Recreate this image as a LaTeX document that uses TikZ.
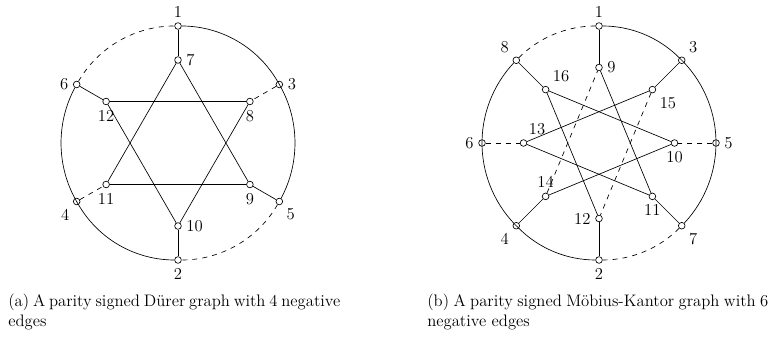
\documentclass[tikz,border=0pt]{standalone}
\usepackage{tikz}

\begin{document}
\begin{tikzpicture}[x=0.75pt, y=0.75pt, line width=0.5pt,
	vtx/.style={circle, draw, fill=white, inner sep=0pt, minimum size=5pt},
	neg/.style={dash pattern=on 3.75pt off 3.75pt},
	rima/.style={bend left=30, looseness=0.91},
	rimb/.style={bend left=22.5, looseness=0.885},
	caption/.style={anchor=base west, inner sep=0pt, align=justify, font={\fontsize{12.5}{15}\selectfont}},
	every label/.style={font={\fontsize{12.5}{15}\selectfont}}]
	\useasboundingbox (0,0) rectangle (770,349);
	% (a) Durer graph
	\begin{scope}[shift={(178,206)}]
	\node[vtx, label=above:1] (a1) at (90:117) {};
	\node[vtx, label=right:3] (a3) at (30:117) {};
	\node[vtx, label=below right:5] (a5) at (-30:117) {};
	\node[vtx, label=below:2] (a2) at (-90:117) {};
	\node[vtx, label=below left:4] (a4) at (210:117) {};
	\node[vtx, label=left:6] (a6) at (150:117) {};
	\node[vtx, label=right:7] (a7) at (90:83) {};
	\node[vtx, label=below:8] (a8) at (30:83) {};
	\node[vtx, label=below:9] (a9) at (-30:83) {};
	\node[vtx, label=right:10] (a10) at (-90:83) {};
	\node[vtx, label=below:11] (a11) at (210:83) {};
	\node[vtx, label=below:12] (a12) at (150:83) {};
	\draw (a1) to[rima] (a3) to[rima] (a5);
	\draw[neg] (a5) to[rima] (a2);
	\draw (a2) to[rima] (a4) to[rima] (a6);
	\draw[neg] (a6) to[rima] (a1);
	\draw (a1) -- (a7);
	\draw[neg] (a3) -- (a8);
	\draw (a5) -- (a9);
	\draw (a2) -- (a10);
	\draw[neg] (a4) -- (a11);
	\draw (a6) -- (a12);
	\draw (a7) -- (a9) -- (a11) -- (a7);
	\draw (a8) -- (a10) -- (a12) -- (a8);
	\end{scope}
	% (b) Moebius-Kantor graph
	\begin{scope}[shift={(599,206)}]
	\node[vtx, label=above:1] (b1) at (90:117) {};
	\node[vtx, label=above right:3] (b3) at (45:117) {};
	\node[vtx, label=right:5] (b5) at (0:117) {};
	\node[vtx, label=below right:7] (b7) at (-45:117) {};
	\node[vtx, label=below:2] (b2) at (-90:117) {};
	\node[vtx, label=below left:4] (b4) at (-135:117) {};
	\node[vtx, label=left:6] (b6) at (180:117) {};
	\node[vtx, label=above left:8] (b8) at (135:117) {};
	\node[vtx, label=right:9] (b9) at (90:75.5) {};
	\node[vtx, label=below right:15] (b15) at (45:75.5) {};
	\node[vtx, label=below:10] (b10) at (0:75.5) {};
	\node[vtx, label=below:11] (b11) at (-45:75.5) {};
	\node[vtx, label=left:12] (b12) at (-90:75.5) {};
	\node[vtx, label=above:14] (b14) at (-135:75.5) {};
	\node[vtx, label=80:13] (b13) at (180:75.5) {};
	\node[vtx, label=above right:16] (b16) at (135:75.5) {};
	\draw (b1) to[rimb] (b3) to[rimb] (b5) to[rimb] (b7);
	\draw[neg] (b7) to[rimb] (b2);
	\draw (b2) to[rimb] (b4) to[rimb] (b6) to[rimb] (b8);
	\draw[neg] (b8) to[rimb] (b1);
	\draw (b1) -- (b9);
	\draw (b3) -- (b15);
	\draw[neg] (b5) -- (b10);
	\draw (b7) -- (b11);
	\draw (b2) -- (b12);
	\draw (b4) -- (b14);
	\draw[neg] (b6) -- (b13);
	\draw (b8) -- (b16);
	\draw (b9) -- (b11) -- (b13) -- (b15);
	\draw (b10) -- (b14);
	\draw (b12) -- (b16) -- (b10);
	\draw[neg] (b15) -- (b12);
	\draw[neg] (b14) -- (b9);
	\end{scope}
	% captions
	\node[caption, text width=249pt] (capa) at (8,42) {(a) A parity signed D\"urer graph with 4 negative\linebreak edges};
	\node[caption, text width=255.75pt] (capb) at (427,42) {(b) A parity signed M\"obius-Kantor graph with 6\linebreak negative edges};
\end{tikzpicture}
\end{document}
